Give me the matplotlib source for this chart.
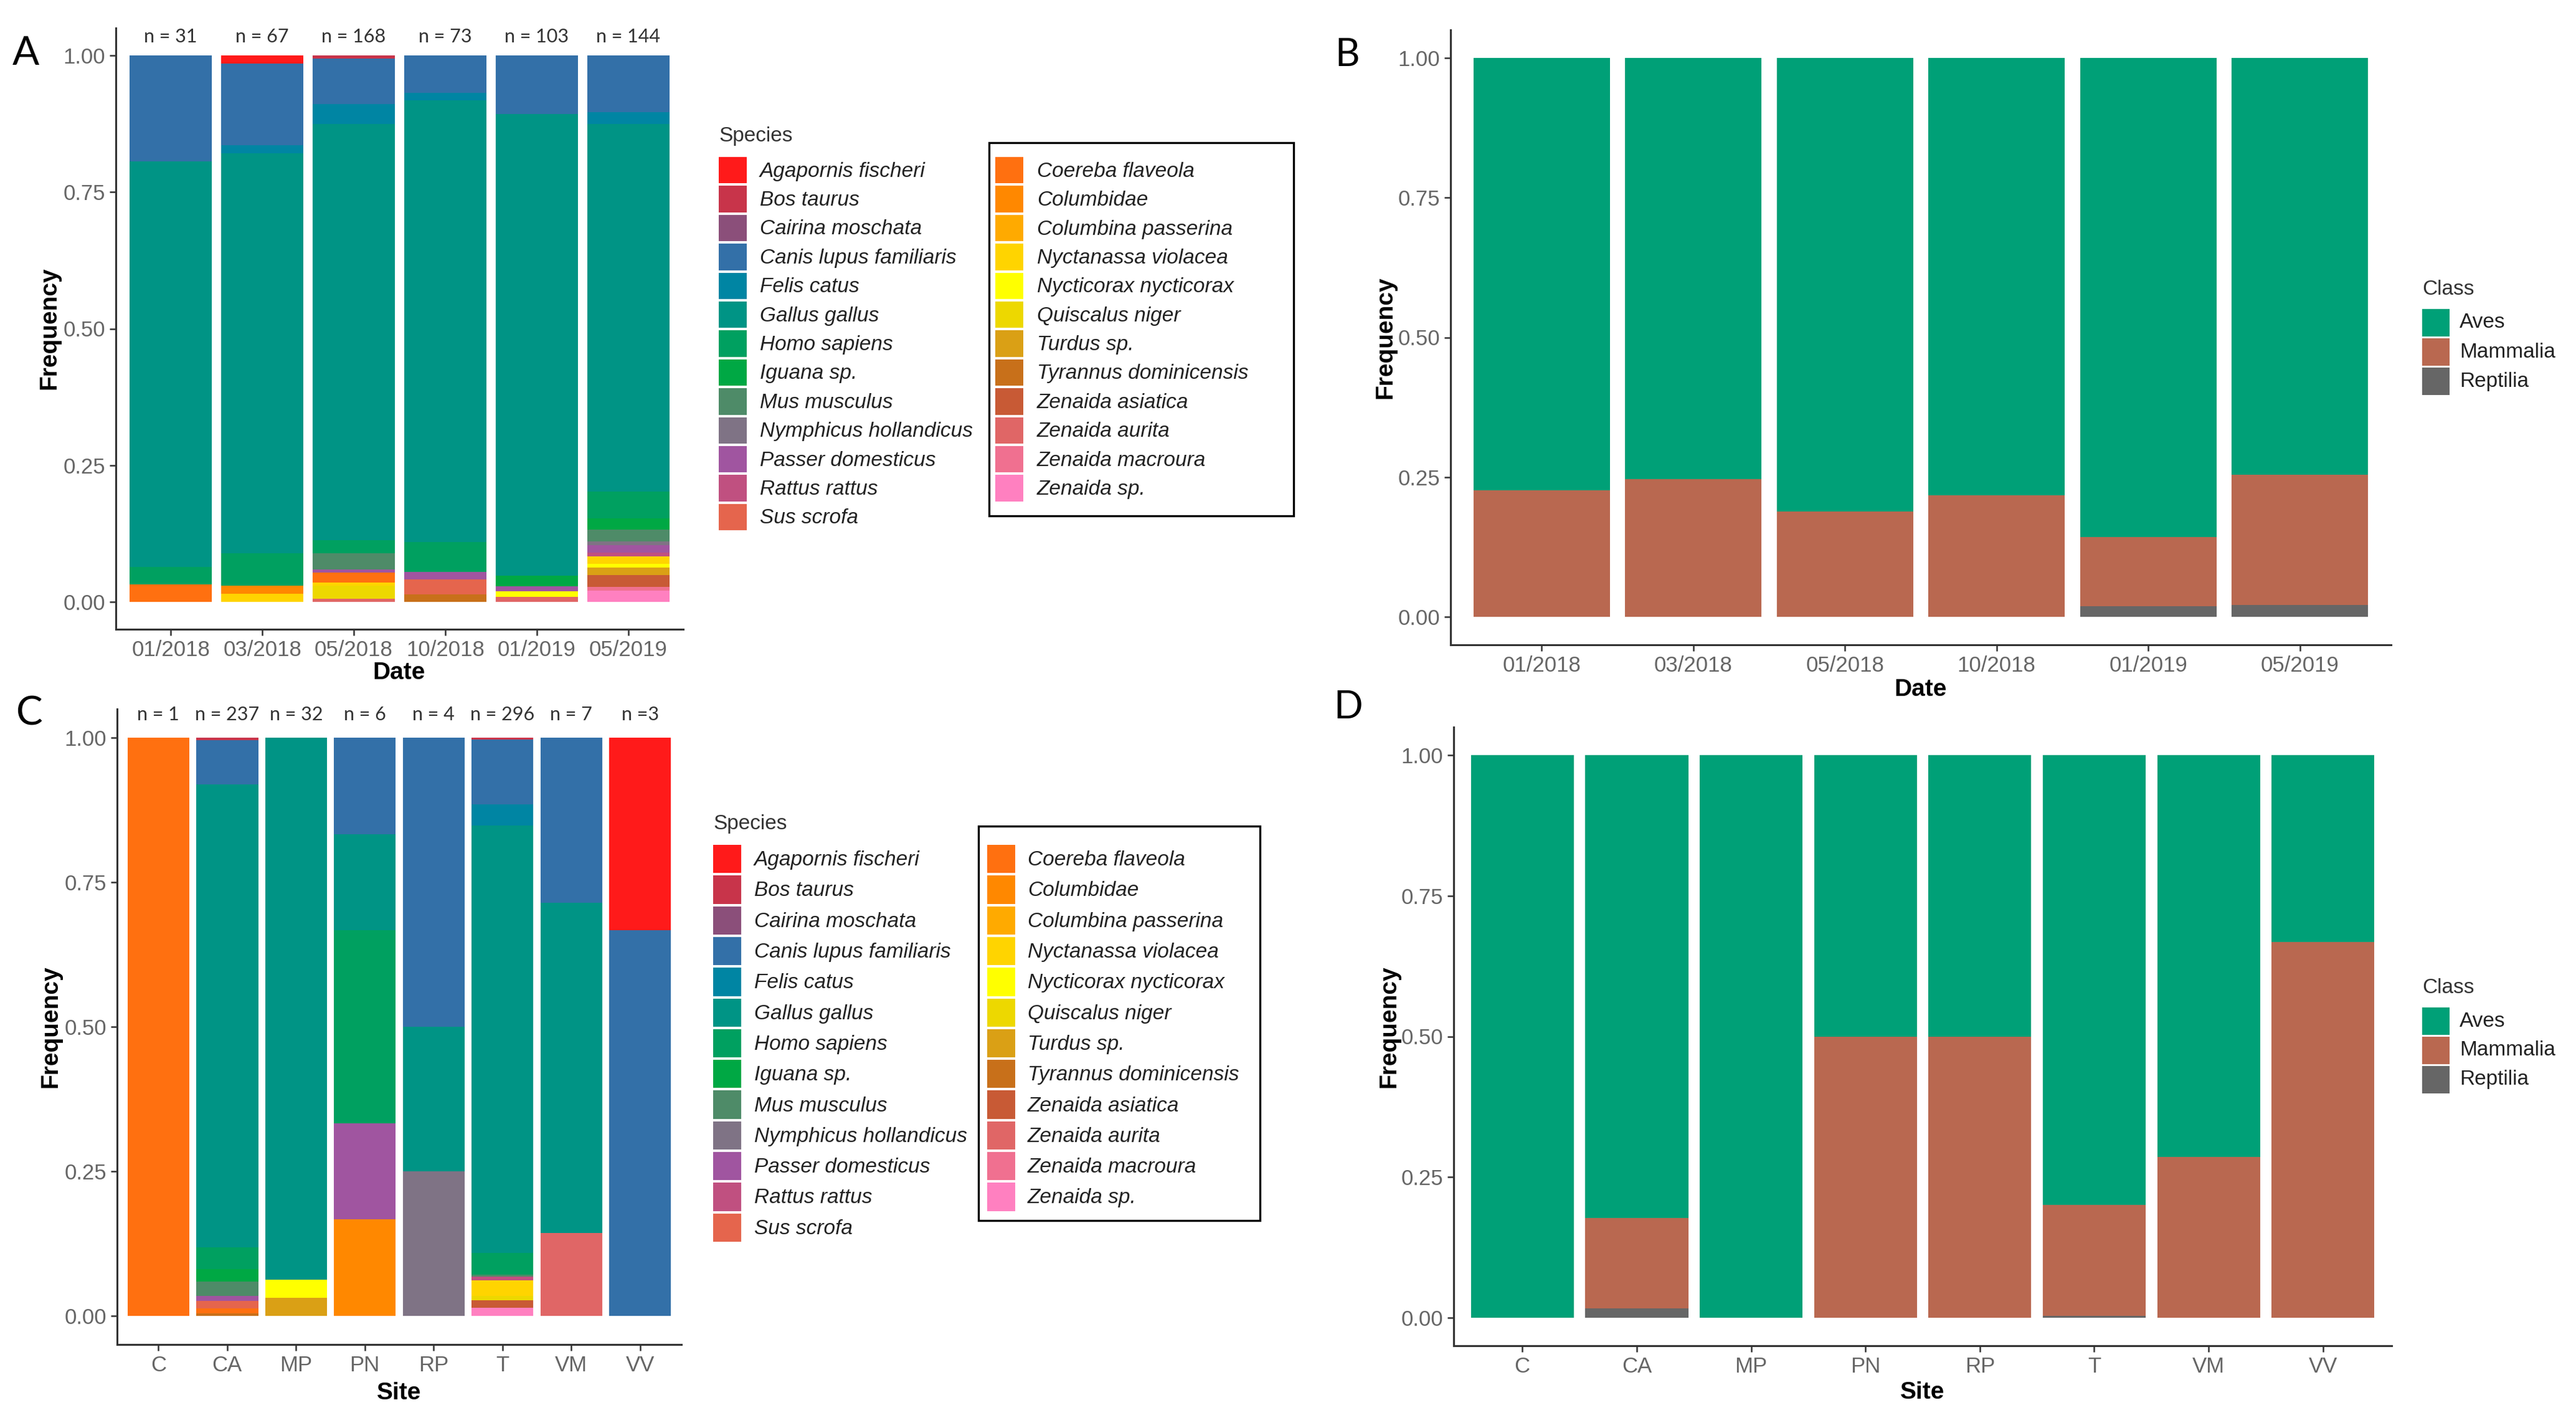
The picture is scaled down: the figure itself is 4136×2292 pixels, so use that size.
import matplotlib
matplotlib.use("Agg")
import matplotlib.pyplot as plt
from matplotlib.patches import Rectangle
from matplotlib import font_manager

# species legend order (ggplot puts the first level on top of the stack)
species = ["Agapornis fischeri", "Bos taurus", "Cairina moschata", "Canis lupus familiaris",
           "Felis catus", "Gallus gallus", "Homo sapiens", "Iguana sp.", "Mus musculus",
           "Nymphicus hollandicus", "Passer domesticus", "Rattus rattus", "Sus scrofa",
           "Coereba flaveola", "Columbidae", "Columbina passerina", "Nyctanassa violacea",
           "Nycticorax nycticorax", "Quiscalus niger", "Turdus sp.", "Tyrannus dominicensis",
           "Zenaida asiatica", "Zenaida aurita", "Zenaida macroura", "Zenaida sp."]
species_colors = ["#FF1A1A", "#C8344A", "#8B4F7A", "#3370A8", "#0085A3", "#009485",
                  "#00A060", "#00A844", "#4E8B68", "#7F7385", "#A055A0", "#C05080",
                  "#E5654D", "#FF7010", "#FF8800", "#FFAA00", "#FFD400", "#FFFF00",
                  "#EDD800", "#DAA015", "#C8701A", "#C85A35", "#E06666", "#F07090",
                  "#FF80C0"]

# panel A: counts per sampling date
dates = ["01/2018", "03/2018", "05/2018", "10/2018", "01/2019", "05/2019"]
date_n = [31, 67, 168, 73, 103, 144]
date_counts = [
    {"Canis lupus familiaris": 6, "Gallus gallus": 23, "Homo sapiens": 1, "Coereba flaveola": 1},
    {"Agapornis fischeri": 1, "Canis lupus familiaris": 10, "Felis catus": 1, "Gallus gallus": 49,
     "Homo sapiens": 4, "Columbidae": 1, "Nyctanassa violacea": 1},
    {"Bos taurus": 1, "Canis lupus familiaris": 14, "Felis catus": 6, "Gallus gallus": 128,
     "Homo sapiens": 4, "Mus musculus": 5, "Passer domesticus": 1, "Coereba flaveola": 3,
     "Nyctanassa violacea": 1, "Quiscalus niger": 4, "Zenaida aurita": 1},
    {"Canis lupus familiaris": 5, "Felis catus": 1, "Gallus gallus": 59, "Homo sapiens": 4,
     "Passer domesticus": 1, "Sus scrofa": 2, "Tyrannus dominicensis": 1},
    {"Canis lupus familiaris": 11, "Gallus gallus": 87, "Iguana sp.": 2, "Passer domesticus": 1,
     "Nycticorax nycticorax": 1, "Zenaida aurita": 1},
    {"Canis lupus familiaris": 15, "Felis catus": 3, "Gallus gallus": 97, "Homo sapiens": 7,
     "Iguana sp.": 3, "Mus musculus": 3, "Nymphicus hollandicus": 1, "Passer domesticus": 2,
     "Rattus rattus": 1, "Nyctanassa violacea": 2, "Nycticorax nycticorax": 1, "Turdus sp.": 2,
     "Zenaida asiatica": 3, "Zenaida macroura": 1, "Zenaida sp.": 3},
]

# panel C: counts per site
sites = ["C", "CA", "MP", "PN", "RP", "T", "VM", "VV"]
site_n_labels = ["n = 1", "n = 237", "n = 32", "n = 6", "n = 4", "n = 296", "n = 7", "n =3"]
site_n = [1, 237, 32, 6, 4, 296, 7, 3]
site_counts = [
    {"Coereba flaveola": 1},
    {"Bos taurus": 1, "Canis lupus familiaris": 18, "Gallus gallus": 190, "Homo sapiens": 9,
     "Iguana sp.": 5, "Mus musculus": 6, "Passer domesticus": 2, "Sus scrofa": 3,
     "Coereba flaveola": 2, "Tyrannus dominicensis": 1},
    {"Gallus gallus": 30, "Nycticorax nycticorax": 1, "Turdus sp.": 1},
    {"Canis lupus familiaris": 1, "Gallus gallus": 1, "Homo sapiens": 2, "Passer domesticus": 1,
     "Columbidae": 1},
    {"Canis lupus familiaris": 2, "Gallus gallus": 1, "Nymphicus hollandicus": 1},
    {"Bos taurus": 1, "Canis lupus familiaris": 33, "Felis catus": 11, "Gallus gallus": 219,
     "Homo sapiens": 11, "Mus musculus": 1, "Rattus rattus": 2, "Nyctanassa violacea": 8,
     "Quiscalus niger": 2, "Zenaida asiatica": 4, "Zenaida sp.": 4},
    {"Canis lupus familiaris": 2, "Gallus gallus": 4, "Zenaida aurita": 1},
    {"Agapornis fischeri": 1, "Canis lupus familiaris": 2},
]

# panels B and D: class frequencies
classes = ["Aves", "Mammalia", "Reptilia"]
class_colors = ["#00A077", "#B96850", "#666666"]
date_aves = [0.774, 0.753, 0.811, 0.783, 0.857, 0.746]
date_mammalia = [0.226, 0.247, 0.189, 0.217, 0.124, 0.233]
date_reptilia = [0.0, 0.0, 0.0, 0.0, 0.019, 0.021]
site_aves = [1.0, 0.823, 1.0, 0.5, 0.5, 0.7995, 0.7145, 0.3325]
site_mammalia = [0.0, 0.160, 0.0, 0.5, 0.5, 0.1975, 0.2855, 0.6675]
site_reptilia = [0.0, 0.017, 0.0, 0.0, 0.0, 0.003, 0.0, 0.0]

W, H = 4136, 2292
names = {f.name for f in font_manager.fontManager.ttflist}
main_font = "Liberation Sans" if "Liberation Sans" in names else "DejaVu Sans"
narrow_font = "Liberation Sans Narrow" if "Liberation Sans Narrow" in names else main_font
label_font = "Lato" if "Lato" in names else main_font
plt.rcParams["font.family"] = main_font

fig = plt.figure(figsize=(W / 100, H / 100), dpi=100)
fig.patch.set_facecolor("white")


def px_axes(left, top, right, bottom):
    return fig.add_axes([left / W, 1 - bottom / H, (right - left) / W, (bottom - top) / H])


def ftext(x, y, s, **kw):
    fig.text(x / W, 1 - y / H, s, **kw)


def style_axes(ax, nbars, labels, font, tsize):
    ax.set_xlim(0.4, nbars + 0.6)
    ax.set_ylim(-0.05, 1.05)
    for side in ["top", "right"]:
        ax.spines[side].set_visible(False)
    for side in ["left", "bottom"]:
        ax.spines[side].set_linewidth(2.2)
        ax.spines[side].set_color("#333333")
    ax.set_yticks([0, 0.25, 0.5, 0.75, 1.0])
    ax.set_yticklabels(["0.00", "0.25", "0.50", "0.75", "1.00"], fontfamily=font)
    ax.set_xticks(range(1, nbars + 1))
    ax.set_xticklabels(labels, fontfamily=font)
    ax.tick_params(axis="both", length=7, width=1.8, color="#333333", labelcolor="#666666",
                   labelsize=tsize, pad=5)


def species_bars(ax, counts, ns):
    bottoms = [0.0] * len(counts)
    for sp, col in zip(species[::-1], species_colors[::-1]):
        vals = [c.get(sp, 0) / n for c, n in zip(counts, ns)]
        ax.bar(range(1, len(counts) + 1), vals, width=0.9, bottom=bottoms, color=col,
               linewidth=0)
        bottoms = [b + v for b, v in zip(bottoms, vals)]


def class_bars(ax, aves, mamm, rept):
    x = range(1, len(aves) + 1)
    ax.bar(x, rept, width=0.9, color=class_colors[2], linewidth=0)
    ax.bar(x, mamm, width=0.9, bottom=rept, color=class_colors[1], linewidth=0)
    ax.bar(x, aves, width=0.9, bottom=[r + m for r, m in zip(rept, mamm)],
           color=class_colors[0], linewidth=0)


def species_legend(x0, y0, step, textx2, keyx2, box):
    ftext(x0, y0 - 33, "Species", fontsize=24, color="#333333", va="center", ha="left")
    for i, (sp, col) in enumerate(zip(species, species_colors)):
        if i < 13:
            kx, tx, row = x0, x0 + 66, i
        else:
            kx, tx, row = keyx2, textx2, i - 13
        ky = y0 + row * step
        fig.patches.append(Rectangle((kx / W, 1 - (ky + step - 4) / H), 45 / W, (step - 4) / H,
                                     transform=fig.transFigure, facecolor=col, linewidth=0))
        ftext(tx, ky + step / 2, sp, fontsize=24, style="italic", color="#222222",
              va="center", ha="left")
    bx0, by0, bx1, by1 = box
    fig.patches.append(Rectangle((bx0 / W, 1 - by1 / H), (bx1 - bx0) / W, (by1 - by0) / H,
                                 transform=fig.transFigure, facecolor="none",
                                 edgecolor="black", linewidth=2.4))


def class_legend(x0, y0):
    ftext(x0, y0 - 32, "Class", fontsize=24, color="#333333", va="center", ha="left",
          fontfamily=narrow_font)
    for i, (cl, col) in enumerate(zip(classes, class_colors)):
        ky = y0 + i * 47
        fig.patches.append(Rectangle((x0 / W, 1 - (ky + 44) / H), 44 / W, 44 / H,
                                     transform=fig.transFigure, facecolor=col, linewidth=0))
        ftext(x0 + 60, ky + 22, cl, fontsize=24, color="#222222", va="center", ha="left",
              fontfamily=narrow_font)


# ---- panel A
axA = px_axes(186, 45, 1097, 1010)
species_bars(axA, date_counts, date_n)
style_axes(axA, 6, dates, main_font, 25)
for i, n in enumerate(date_n):
    axA.text(i + 1, 1.034, "n = %d" % n, ha="center", va="center", fontsize=22,
             color="#333333", fontfamily=label_font, clip_on=False)
ftext(79, 527, "Frequency", rotation=90, fontsize=28, fontweight="bold", ha="center", va="center")
ftext(641, 1080, "Date", fontsize=28, fontweight="bold", ha="center", va="center")
ftext(41, 86, "A", fontsize=46, ha="center", va="center", fontfamily=label_font)
species_legend(1154, 252, 46.4, 1665, 1598, (1588, 229, 2077, 828))

# ---- panel C
axC = px_axes(188, 1138, 1094, 2158)
species_bars(axC, site_counts, site_n)
style_axes(axC, 8, sites, main_font, 25)
for i, lab in enumerate(site_n_labels):
    axC.text(i + 1, 1.04, lab, ha="center", va="center", fontsize=22,
             color="#333333", fontfamily=label_font, clip_on=False)
ftext(81, 1648, "Frequency", rotation=90, fontsize=28, fontweight="bold", ha="center", va="center")
ftext(641, 2236, "Site", fontsize=28, fontweight="bold", ha="center", va="center")
ftext(47, 1146, "C", fontsize=46, ha="center", va="center", fontfamily=label_font)
species_legend(1145, 1356, 49.3, 1650, 1585, (1571, 1326, 2023, 1959))

# ---- panel B
axB = px_axes(2329, 48, 3839, 1035)
class_bars(axB, date_aves, date_mammalia, date_reptilia)
style_axes(axB, 6, dates, narrow_font, 25)
ftext(2224, 542, "Frequency", rotation=90, fontsize=28, fontweight="bold", ha="center", va="center")
ftext(3084, 1107, "Date", fontsize=28, fontweight="bold", ha="center", va="center",
      fontfamily=narrow_font)
ftext(2163, 88, "B", fontsize=44, ha="center", va="center", fontfamily=label_font)
class_legend(3889, 496)

# ---- panel D
axD = px_axes(2334, 1167, 3840, 2160)
class_bars(axD, site_aves, site_mammalia, site_reptilia)
style_axes(axD, 8, sites, narrow_font, 25)
ftext(2230, 1648, "Frequency", rotation=90, fontsize=28, fontweight="bold", ha="center", va="center")
ftext(3087, 2235, "Site", fontsize=28, fontweight="bold", ha="center", va="center",
      fontfamily=narrow_font)
ftext(2165, 1136, "D", fontsize=44, ha="center", va="center", fontfamily=label_font)
class_legend(3889, 1617)

fig.savefig("out.png", dpi=100, facecolor="white")
